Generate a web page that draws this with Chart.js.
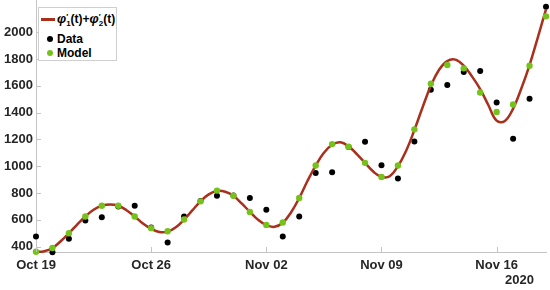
<!DOCTYPE html>
<html>
<head>
<meta charset="utf-8">
<script src="https://cdn.jsdelivr.net/npm/chart.js@4/dist/chart.umd.min.js"></script>
<style>
  body { margin: 0; background: #fff; }
  canvas { display: block; }
  #wrap { position: relative; width: 550px; height: 290px; font-family: "Liberation Sans", Arial, sans-serif; }
  #legend { position: absolute; left: 38px; top: 7px; width: 77px; height: 52px; border: 1px solid #cfcfcf; background: #fff; font-weight: bold; font-size: 12px; color: #000; }
  .row { position: absolute; left: 0; height: 14px; line-height: 14px; white-space: nowrap; }
  .txt { position: absolute; left: 18px; }
  .phi { font-style: italic; font-size: 13px; }
  .ss { display: inline-block; vertical-align: -3px; font-size: 8px; line-height: 7px; }
  .swatch { position: absolute; left: 2px; top: 6px; width: 14px; height: 3px; background: #a8301c; }
  .dot { position: absolute; left: 8px; top: 4px; width: 6px; height: 6px; border-radius: 50%; }
  #year { position: absolute; left: 505px; top: 272px; font-weight: bold; font-size: 13px; color: #262626; }
</style>
</head>
<body>
<div id="wrap">
  <canvas id="c" width="550" height="290"></canvas>
  <div id="legend">
    <div class="row" style="top:4px"><span class="swatch"></span><span class="txt"><span class="phi">φ</span><span class="ss">′<br>1</span>(t)+<span class="phi">φ</span><span class="ss">′<br>2</span>(t)</span></div>
    <div class="row" style="top:24px"><span class="dot" style="background:#000"></span><span class="txt">Data</span></div>
    <div class="row" style="top:38px"><span class="dot" style="background:#76c21d"></span><span class="txt">Model</span></div>
  </div>
  <div id="year">2020</div>
</div>
<script>
// days since Oct 19, 2020
const days = [0, 1, 2, 3, 4, 5, 6, 7, 8, 9, 10, 11, 12, 13, 14, 15, 16, 17, 18, 19, 20, 21, 22, 23, 24, 25, 26, 27, 28, 29, 30, 31];
const dataValues = [475, 358, 458, 595, 620, 700, 705, 543, 430, 625, 740, 780, 782, 763, 675, 475, 625, 950, 955, 1143, 1183, 1008, 908, 1185, 1570, 1605, 1703, 1710, 1475, 1205, 1503, 2190];
const modelValues = [362, 390, 500, 625, 705, 705, 625, 538, 515, 602, 738, 818, 780, 658, 562, 580, 763, 1005, 1165, 1145, 1025, 920, 1005, 1275, 1615, 1755, 1730, 1550, 1405, 1460, 1750, 2118];

// fitted curve read at half-day steps
const curveDays = [0, 0.5, 1, 1.5, 2, 2.5, 3, 3.5, 4, 4.5, 5, 5.5, 6, 6.5, 7, 7.5, 8, 8.5, 9, 9.5, 10, 10.5, 11, 11.5, 12, 12.5, 13, 13.5, 14, 14.5, 15, 15.5,
  16, 16.5, 17, 17.5, 18, 18.5, 19, 19.5, 20, 20.5, 21, 21.5, 22, 22.5, 23, 23.5, 24, 24.5, 25, 25.5, 26, 26.5, 27, 27.5, 28, 28.5, 29, 29.5, 30, 30.5, 31];
const curveValues = [360, 366, 390, 440, 500, 565, 625, 675, 705, 715, 705, 672, 625, 572, 533, 510, 512, 545, 602, 670, 738, 790, 815, 810, 780, 722, 660, 600, 560, 548, 578, 655,
  763, 890, 1005, 1100, 1160, 1178, 1148, 1090, 1025, 960, 920, 925, 1000, 1115, 1270, 1440, 1600, 1720, 1785, 1795, 1750, 1670, 1575, 1455, 1340, 1338, 1430, 1580, 1755, 1960, 2170];

const xTickDays = [0, 7, 14, 21, 28];
const xTickLabels = ['Oct 19', 'Oct 26', 'Nov 02', 'Nov 09', 'Nov 16'];
const yTicks = [400, 600, 800, 1000, 1200, 1400, 1600, 1800, 2000];

const axisColor = '#c4c4c4';
const tickFont = { family: '"Liberation Sans", Arial, sans-serif', size: 13, weight: 'bold' };

// MATLAB-style inward tick marks
const innerTicks = {
  id: 'innerTicks',
  afterDraw(chart) {
    const { ctx, chartArea: a, scales: { x, y } } = chart;
    ctx.save();
    ctx.strokeStyle = axisColor;
    ctx.lineWidth = 1;
    ctx.beginPath();
    xTickDays.forEach(d => {
      const px = Math.round(x.getPixelForValue(d)) + 0.5;
      ctx.moveTo(px, a.bottom); ctx.lineTo(px, a.bottom - 5);
    });
    yTicks.forEach(v => {
      const py = Math.round(y.getPixelForValue(v)) + 0.5;
      ctx.moveTo(a.left, py); ctx.lineTo(a.left + 5, py);
    });
    ctx.stroke();
    ctx.restore();
  }
};

new Chart(document.getElementById('c'), {
  type: 'line',
  data: {
    datasets: [
      {
        label: 'Model',
        data: days.map((d, i) => ({ x: d, y: modelValues[i] })),
        showLine: false,
        pointRadius: 3.2,
        pointBackgroundColor: '#76c21d',
        pointBorderWidth: 0,
        order: 1
      },
      {
        label: 'curve',
        data: curveDays.map((d, i) => ({ x: d, y: curveValues[i] })),
        borderColor: '#a8301c',
        borderWidth: 2.5,
        pointRadius: 0,
        tension: 0.4,
        fill: false,
        order: 2
      },
      {
        label: 'Data',
        data: days.map((d, i) => ({ x: d, y: dataValues[i] })),
        showLine: false,
        pointRadius: 3,
        pointBackgroundColor: '#000',
        pointBorderWidth: 0,
        order: 3
      }
    ]
  },
  options: {
    responsive: false,
    animation: false,
    clip: false,
    layout: { autoPadding: false, padding: { top: 0, right: 4, left: 0, bottom: 0 } },
    plugins: { legend: { display: false }, tooltip: { enabled: false } },
    scales: {
      x: {
        type: 'linear',
        min: 0,
        max: 31,
        afterBuildTicks: s => { s.ticks = xTickDays.map(v => ({ value: v })); },
        afterFit: s => { s.height = 38; s.paddingLeft = 0; s.paddingRight = 0; },
        ticks: {
          autoSkip: false,
          maxRotation: 0,
          padding: 6,
          color: '#262626',
          font: tickFont,
          callback: v => xTickLabels[xTickDays.indexOf(v)]
        },
        grid: { display: false, drawTicks: false },
        border: { display: true, color: axisColor, width: 1 }
      },
      y: {
        min: 360,
        max: 2240,
        afterBuildTicks: s => { s.ticks = yTicks.map(v => ({ value: v })); },
        afterFit: s => { s.width = 36; s.paddingTop = 0; s.paddingBottom = 0; },
        ticks: { padding: 3, color: '#262626', font: tickFont, callback: v => String(v) },
        grid: { display: false, drawTicks: false },
        border: { display: true, color: axisColor, width: 1 }
      }
    }
  },
  plugins: [innerTicks]
});
</script>
</body>
</html>
